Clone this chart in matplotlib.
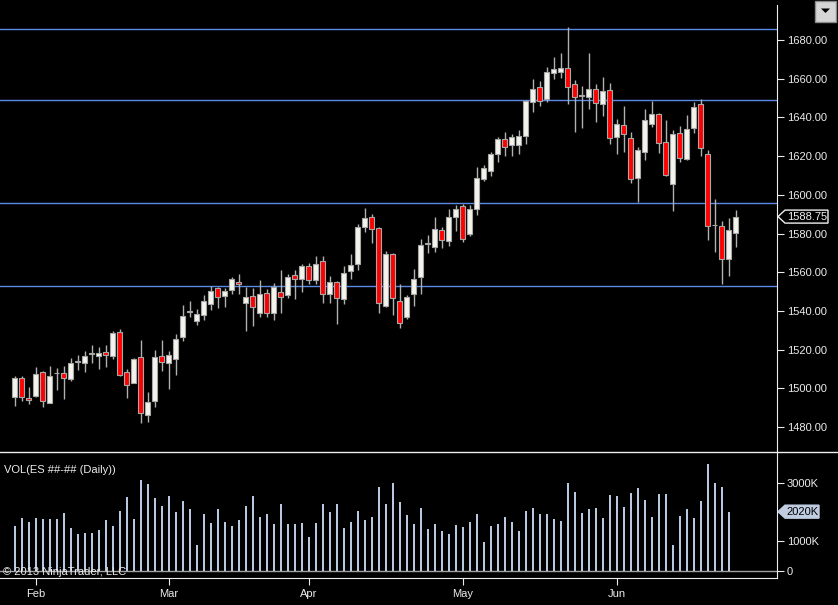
import numpy as np
import matplotlib
matplotlib.use("Agg")
import matplotlib.pyplot as plt
from matplotlib.patches import Polygon, Rectangle
from matplotlib.lines import Line2D

plt.rcParams['font.family'] = ['Liberation Sans', 'DejaVu Sans']

# daily ES bars, late Jan 2013 -> 26 Jun 2013
opens = [1495.75, 1505.25, 1494.75, 1496, 1508.5, 1492.5, 1507.75, 1508, 1504.75, 1513.75,
         1513, 1517.75, 1516.5, 1519, 1516.5, 1529, 1508.25, 1502.5, 1516, 1486,
         1493.5, 1516.5, 1513, 1515, 1526.75, 1539.5, 1535, 1538, 1543.5, 1551.75,
         1547.75, 1551, 1554.75, 1544.25, 1547.75, 1539, 1549.5, 1538.75, 1550, 1548.25,
         1558.5, 1556.75, 1563, 1556, 1566, 1548.5, 1554.75, 1546, 1560.75, 1564,
         1583.5, 1588.5, 1582.75, 1542.75, 1569.5, 1545, 1537, 1548.5, 1557.5, 1574.5,
         1573.25, 1581.75, 1576.25, 1588.75, 1594.25, 1579.5, 1592.5, 1608.25, 1612.5, 1621,
         1628.75, 1626, 1625.5, 1630.5, 1648, 1655.5, 1649.75, 1662.75, 1663.5, 1665.75,
         1657.5, 1651, 1650.5, 1654.5, 1646.75, 1654.25, 1629.75, 1636, 1629.25, 1608.5,
         1622, 1636.5, 1642, 1627.5, 1605.5, 1631.75, 1618.5, 1634.75, 1646.75, 1621,
         1584.25, 1584, 1566.75, 1580.5]
highs = [1506.5, 1506.5, 1500.75, 1511.25, 1509, 1511.5, 1510.75, 1511.5, 1515.75, 1517.25,
         1519.25, 1522.5, 1521.25, 1522.5, 1529.5, 1530.5, 1510, 1515.75, 1525, 1498,
         1519.75, 1525, 1519.25, 1528, 1543, 1545, 1541, 1548.25, 1553, 1552.5,
         1552, 1557.75, 1559, 1552.5, 1551.75, 1556, 1551.25, 1554.5, 1561, 1559,
         1561, 1564.5, 1565, 1568.5, 1568.5, 1558, 1555.5, 1563.25, 1569.5, 1585,
         1593, 1590, 1583.25, 1571, 1570, 1553.75, 1548.25, 1561.75, 1577, 1579,
         1588.5, 1583.5, 1592.75, 1594.75, 1595.25, 1594.75, 1614.5, 1615.5, 1622.25, 1630,
         1632.5, 1631.5, 1633.5, 1649, 1659.75, 1658.75, 1666.25, 1671, 1673.5, 1686.5,
         1659.25, 1656, 1673.5, 1657.25, 1660.75, 1658, 1639, 1646, 1632.25, 1624.5,
         1644.25, 1648.5, 1642.5, 1638.75, 1633.5, 1635.5, 1641.25, 1648, 1649.5, 1623.25,
         1597.75, 1586.5, 1588, 1592]
lows = [1491, 1493.5, 1491.75, 1495.75, 1490.5, 1492.5, 1499, 1494.5, 1503.75, 1509.5,
        1508.5, 1513.25, 1510, 1511.25, 1515, 1506.5, 1495.25, 1502.5, 1482, 1482.75,
        1490.25, 1509, 1499.5, 1507, 1524.5, 1536.75, 1532.5, 1535.25, 1540.5, 1541.75,
        1542, 1549, 1548.75, 1529.75, 1532, 1536.75, 1536.75, 1535.25, 1539, 1546.75,
        1546, 1550, 1554, 1554, 1544.25, 1544, 1533.5, 1543.5, 1556.5, 1561,
        1581, 1575.25, 1539, 1542.25, 1538, 1531, 1535.75, 1542.5, 1549, 1570,
        1570.5, 1572.75, 1573.5, 1581.5, 1575.75, 1578.5, 1589.5, 1607.25, 1609.5, 1617,
        1620, 1620, 1621, 1626.25, 1642.75, 1646, 1648, 1659.75, 1660.25, 1646.75,
        1632.5, 1634.75, 1644.25, 1637.75, 1640.75, 1626.5, 1621, 1622.25, 1606, 1596.5,
        1618.25, 1635, 1621.5, 1609.5, 1591.75, 1617, 1618, 1632, 1620.25, 1576.5,
        1570.5, 1553.75, 1558.25, 1573.25]
closes = [1505.25, 1495.5, 1493.75, 1507.5, 1493.5, 1506.5, 1508, 1505.5, 1513, 1513.75,
          1516.75, 1517.75, 1518.5, 1517, 1528.5, 1507, 1501.5, 1515, 1487.5, 1492.75,
          1516, 1513.5, 1517, 1525.75, 1537.5, 1539.5, 1538.25, 1545, 1550.5, 1547,
          1550.25, 1556.25, 1553.75, 1547, 1542.25, 1549, 1539, 1552.5, 1547, 1557.5,
          1556.75, 1563, 1556, 1564.5, 1548.5, 1554.75, 1546.5, 1559.5, 1563.5, 1583.25,
          1588, 1582.25, 1544, 1569.5, 1546.5, 1534, 1547.25, 1556.25, 1574, 1574.75,
          1582.25, 1576.5, 1588.5, 1592.5, 1577.25, 1592.75, 1608.75, 1613.75, 1621, 1628.75,
          1624.5, 1629.75, 1630.5, 1648.5, 1654.5, 1648.5, 1663.25, 1665, 1665.5, 1655.5,
          1650.5, 1651, 1654.5, 1647.25, 1653.5, 1629.25, 1636.5, 1631.25, 1608, 1623,
          1638.5, 1642, 1627, 1610, 1631.25, 1619, 1634, 1645.25, 1624, 1584,
          1584.25, 1566.75, 1581.75, 1588.75]

# volume in thousands (no bar shown yet for the last session)
volumes = [1528, 1801, 1664, 1801, 1767, 1767, 1767, 1972, 1459, 1254,
           1288, 1288, 1391, 1733, 1528, 2041, 2519, 1767, 3101, 2964,
           2485, 2212, 2554, 2006, 2383, 2109, 878, 1938, 1630, 2109,
           1664, 1528, 1733, 2212, 2554, 1835, 1938, 1596, 2280, 1596,
           1596, 1630, 1151, 1630, 2280, 2006, 2280, 1459, 1664, 2041,
           1733, 1835, 2861, 2280, 2998, 2348, 1904, 1596, 2143, 1425,
           1596, 1357, 1254, 1562, 1493, 1664, 1938, 980, 1528, 1596,
           1835, 1664, 1357, 2041, 2143, 1938, 1938, 1767, 1699, 2998,
           2690, 1972, 2109, 2143, 1801, 2588, 2554, 2177, 2656, 2827,
           2417, 1835, 2622, 2622, 878, 1870, 2109, 1801, 2383, 3648,
           2998, 2861, 2020]

levels = [1685.75, 1649.25, 1595.75, 1553.0]
month_idx = [3, 22, 42, 64, 86]
month_names = ['Feb', 'Mar', 'Apr', 'May', 'Jun']
price_ticks = list(range(1480, 1681, 20))
vol_ticks = [0, 1000, 2000, 3000]
vol_tick_labels = ['0', '1000K', '', '3000K']

W, H = 838, 605
TXT = '#ececec'


def fx(px):
    return px / W


def fy(py):
    return 1 - py / H


fig = plt.figure(figsize=(W / 100, H / 100), dpi=100, facecolor='black')
ax = fig.add_axes([0, fy(452), fx(777), fy(5) - fy(452)], facecolor='black')
axv = fig.add_axes([0, fy(577.7), fx(777), fy(452) - fy(577.7)], facecolor='black', sharex=ax)

o = np.array(opens)
h = np.array(highs)
l = np.array(lows)
c = np.array(closes)
x = np.arange(len(o))

ax.set_xlim(-2.1, 108.9)
ax.set_ylim(1467.1, 1698.1)
axv.set_ylim(-239, 4061)

for lv in levels:
    ax.axhline(lv, color='#5a8ae6', lw=1, zorder=1)

# candles: wick first, body on top
ax.vlines(x, l, h, color='#b0b0b0', lw=1, zorder=2)
body_low = np.minimum(o, c)
body_h = np.maximum(np.abs(c - o), 0.35)
body_col = np.where(c >= o, '#f4f4ec', '#ff0000')
ax.bar(x, body_h, bottom=body_low, width=0.68, color=body_col,
       edgecolor='#a8a8a8', linewidth=0.8, zorder=3)

# volume
axv.axhline(0, color='#a0a0a0', lw=1, zorder=2)
axv.bar(x[:len(volumes)], volumes, width=0.3, color='#b8c8e0', zorder=3)

# axes styling
for a in (ax, axv):
    for s in a.spines.values():
        s.set_visible(False)
    a.spines['right'].set_visible(True)
    a.spines['right'].set_color('#eeeeee')
    a.yaxis.tick_right()
    a.tick_params(axis='y', colors=TXT, labelsize=8, length=5, width=0.8, pad=2)
axv.spines['bottom'].set_visible(True)
axv.spines['bottom'].set_color('#eeeeee')

ax.set_yticks(price_ticks)
ax.set_yticklabels([f'{v:.2f}' for v in price_ticks])
ax.tick_params(axis='x', bottom=False, labelbottom=False)

axv.set_yticks(vol_ticks)
axv.set_yticklabels(vol_tick_labels)
axv.set_xticks(month_idx)
axv.set_xticklabels(month_names)
axv.tick_params(axis='x', colors=TXT, labelsize=8, length=5, width=0.8, pad=3)

# panel separator
fig.add_artist(Line2D([0, 1], [fy(452.3), fy(452.3)], color='#eeeeee', lw=1))

fig.text(fx(4), fy(470), 'VOL(ES ##-## (Daily))', color=TXT, fontsize=8, va='center')
fig.text(fx(3), fy(572), '\u00a9 2013 NinjaTrader, LLC', color=TXT, fontsize=8, va='center')


def tag(axes, value, label, face, edge, tcolor, right):
    yd = axes.transData.transform((0, value))[1]
    pts = [(778, yd), (785, yd + 6.5), (right, yd + 6.5), (right, yd - 6.5), (785, yd - 6.5)]
    pts = fig.transFigure.inverted().transform(pts)
    fig.patches.append(Polygon(pts, closed=True, transform=fig.transFigure,
                               facecolor=face, edgecolor=edge, lw=1, zorder=5))
    fig.text((786 + right) / 2 / W, yd / H, label, color=tcolor, fontsize=8,
             ha='center', va='center', zorder=6)


tag(ax, closes[-1], f'{closes[-1]:.2f}', 'black', '#f0f0f0', '#f0f0f0', 828)
tag(axv, volumes[-1], f'{volumes[-1]}K', '#c0cce0', '#c0cce0', 'black', 819)

# dropdown button, top right
fig.patches.append(Rectangle((fx(815), fy(22)), fx(21), fy(1) - fy(22), transform=fig.transFigure,
                             facecolor='#d6d6d6', edgecolor='#8c8c8c', lw=1))
tri = [(fx(821), fy(8.5)), (fx(830), fy(8.5)), (fx(825.5), fy(13))]
fig.patches.append(Polygon(tri, closed=True, transform=fig.transFigure, facecolor='black'))

fig.savefig('out.png', dpi=100, facecolor='black')
